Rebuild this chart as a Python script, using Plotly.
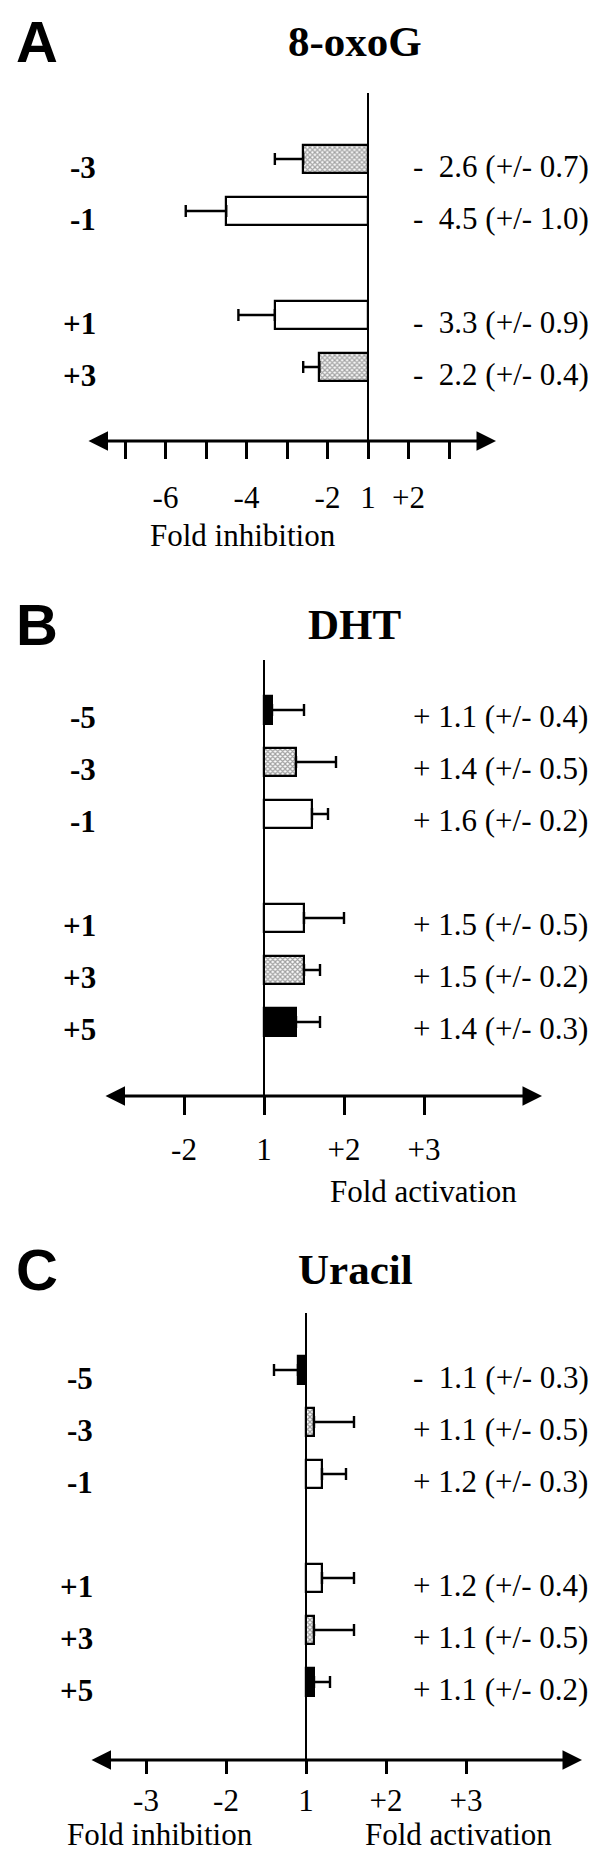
import plotly.graph_objects as go

# fold change per position (negative = fold inhibition), with +/- values
a_pos = ["-3", "-1", "+1", "+3"]
a_fold = [-2.6, -4.5, -3.3, -2.2]
a_sd = [0.7, 1.0, 0.9, 0.4]
a_fill = ["dots", "open", "open", "dots"]

b_pos = ["-5", "-3", "-1", "+1", "+3", "+5"]
b_fold = [1.1, 1.4, 1.6, 1.5, 1.5, 1.4]
b_sd = [0.4, 0.5, 0.2, 0.5, 0.2, 0.3]
b_fill = ["solid", "dots", "open", "open", "dots", "solid"]

c_pos = ["-5", "-3", "-1", "+1", "+3", "+5"]
c_fold = [-1.1, 1.1, 1.2, 1.2, 1.1, 1.1]
c_sd = [0.3, 0.5, 0.3, 0.4, 0.5, 0.2]
c_fill = ["solid", "dots", "open", "open", "dots", "solid"]

a_ticks = [-7, -6, -5, -4, -3, -2, 1, 2, 3]
a_ticktext = ["", "-6", "", "-4", "", "-2", "1", "+2", ""]
b_ticks = [-2, 1, 2, 3]
b_ticktext = ["-2", "1", "+2", "+3"]
c_ticks = [-3, -2, 1, 2, 3]
c_ticktext = ["-3", "-2", "1", "+2", "+3"]

W, H = 600, 1857
SERIF = "Liberation Serif"
SLOT = {"-5": 0, "-3": 1, "-1": 2, "+1": 4, "+3": 5, "+5": 6}
PITCH = 52


def to_axis(f):
    # fold scale: -1 and +1 both sit at "1"
    return f - 1 if f > 0 else f + 1


def fold_text(f, sd):
    sign = "+ " if f > 0 else "- \u00a0"
    return f"{sign}{abs(f):.1f} (+/- {sd:.1f})"


panels = [
    dict(letter="A", title="8-oxoG", pos=a_pos, fold=a_fold, sd=a_sd, fill=a_fill,
         ticks=a_ticks, ticktext=a_ticktext, x0=360, scale=40.5, slot0=99, top=85, axis=433,
         ticklen=17, standoff=12, tips=(79, 488), title_y=33,
         xlabels=[("Fold inhibition", 235, 527)], label_x=90),
    dict(letter="B", title="DHT", pos=b_pos, fold=b_fold, sd=b_sd, fill=b_fill,
         ticks=b_ticks, ticktext=b_ticktext, x0=256, scale=80, slot0=702, top=652, axis=1088,
         ticklen=18, standoff=8, tips=(96, 534), title_y=617,
         xlabels=[("Fold activation", 415, 1183)], label_x=90),
    dict(letter="C", title="Uracil", pos=c_pos, fold=c_fold, sd=c_sd, fill=c_fill,
         ticks=c_ticks, ticktext=c_ticktext, x0=298, scale=80, slot0=1362, top=1305, axis=1752,
         ticklen=13, standoff=0, tips=(82, 574), title_y=1261,
         xlabels=[("Fold inhibition", 152, 1826), ("Fold activation", 450, 1826)], label_x=87),
]

fig = go.Figure()
annotations = []
layout = {}

for i, p in enumerate(panels, start=1):
    xa = "x" if i == 1 else f"x{i}"
    ya = "y" if i == 1 else f"y{i}"
    xkey = "xaxis" if i == 1 else f"xaxis{i}"
    ykey = "yaxis" if i == 1 else f"yaxis{i}"

    slots = [SLOT[s] for s in p["pos"]]
    xs = [to_axis(f) for f in p["fold"]]
    colors = ["black" if k == "solid" else "white" for k in p["fill"]]
    shapes = ["x" if k == "dots" else "" for k in p["fill"]]

    fig.add_trace(go.Bar(
        x=xs, y=slots, orientation="h", width=0.54,
        marker=dict(color=colors, line=dict(color="black", width=2.2),
                    pattern=dict(shape=shapes, fgcolor="black", bgcolor="white",
                                 size=3.5, solidity=0.6)),
        error_x=dict(type="data", symmetric=False,
                     array=[sd if f > 0 else 0 for f, sd in zip(p["fold"], p["sd"])],
                     arrayminus=[sd if f < 0 else 0 for f, sd in zip(p["fold"], p["sd"])],
                     color="black", thickness=2.4, width=6),
        xaxis=xa, yaxis=ya, showlegend=False, hoverinfo="skip",
    ))

    xr = [-p["x0"] / p["scale"], (W - p["x0"]) / p["scale"]]
    ybot = (p["axis"] - p["slot0"]) / PITCH
    ytop = (p["top"] - p["slot0"]) / PITCH
    layout[xkey] = dict(
        domain=[0, 1], range=xr, anchor=ya,
        tickmode="array", tickvals=[to_axis(t) for t in p["ticks"]], ticktext=p["ticktext"],
        ticks="outside", ticklen=p["ticklen"], tickwidth=2.5, tickcolor="black",
        ticklabelstandoff=p["standoff"],
        tickfont=dict(family=SERIF, size=31, color="black"),
        showline=False, showgrid=False,
        zeroline=True, zerolinecolor="black", zerolinewidth=2.2,
    )
    layout[ykey] = dict(
        domain=[1 - p["axis"] / H, 1 - p["top"] / H], range=[ybot, ytop],
        anchor=xa, visible=False,
    )

    # axis line with arrowheads at both ends
    annotations.append(dict(
        x=(p["tips"][1] - p["x0"]) / p["scale"], y=ybot, xref=xa, yref=ya,
        ax=(p["tips"][0] - p["x0"]) / p["scale"], ay=ybot, axref=xa, ayref=ya,
        text="", showarrow=True, arrowhead=2, arrowside="end+start",
        arrowsize=1.3, arrowwidth=3, arrowcolor="black",
    ))

    for s, f, sd, pos in zip(slots, p["fold"], p["sd"], p["pos"]):
        annotations.append(dict(
            x=p["label_x"] / W, y=s, xref="paper", yref=ya, yshift=-8,
            text=f"<b>{pos}</b>", showarrow=False, xanchor="right",
            font=dict(family=SERIF, size=31, color="black"),
        ))
        annotations.append(dict(
            x=403 / W, y=s, xref="paper", yref=ya, yshift=-7,
            text=fold_text(f, sd), showarrow=False, xanchor="left",
            font=dict(family=SERIF, size=31, color="black"),
        ))

    annotations.append(dict(
        x=6 / W, y=1 - p["title_y"] / H, xref="paper", yref="paper",
        text=f"<b>{p['letter']}</b>", showarrow=False, xanchor="left", yanchor="middle",
        font=dict(family="Liberation Sans", size=58, color="black"),
    ))
    annotations.append(dict(
        x=347 / W, y=1 - p["title_y"] / H, xref="paper", yref="paper",
        text=f"<b>{p['title']}</b>", showarrow=False, xanchor="center", yanchor="middle",
        font=dict(family=SERIF, size=43, color="black"),
    ))
    for txt, lx, ly in p["xlabels"]:
        annotations.append(dict(
            x=lx / W, y=1 - ly / H, xref="paper", yref="paper",
            text=txt, showarrow=False, xanchor="center", yanchor="middle",
            font=dict(family=SERIF, size=31, color="black"),
        ))

fig.update_layout(
    width=W, height=H, autosize=False,
    margin=dict(l=0, r=0, t=0, b=0),
    paper_bgcolor="white", plot_bgcolor="rgba(0,0,0,0)",
    bargap=0, annotations=annotations, **layout,
)

fig.write_html("out.html")
